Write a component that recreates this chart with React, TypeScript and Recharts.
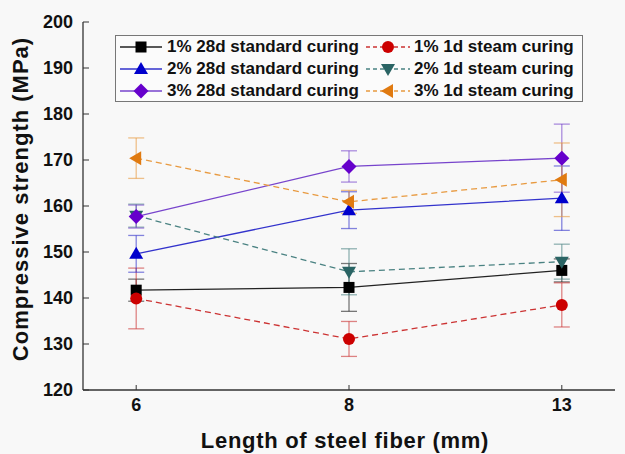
import {
  ErrorBar,
  Line,
  LineChart,
  XAxis,
  YAxis,
} from 'recharts'

const fiberLengths = ['6', '8', '13']
const xPositions = [0, 1, 2]

const std1 = [141.7, 142.3, 146.0]
const std1Err = [2.4, 5.2, 2.5]
const steam1 = [139.9, 131.1, 138.5]
const steam1Err = [6.6, 3.8, 4.8]
const std2 = [149.6, 159.1, 161.7]
const std2Err = [4.0, 4.0, 7.0]
const steam2 = [157.9, 145.7, 147.9]
const steam2Err = [2.5, 5.0, 3.8]
const std3 = [157.7, 168.6, 170.4]
const std3Err = [2.5, 3.4, 7.4]
const steam3 = [170.4, 160.9, 165.7]
const steam3Err = [4.4, 2.5, 8.0]

const yTicks = [120, 130, 140, 150, 160, 170, 180, 190, 200]
const yMinorTicks = [125, 135, 145, 155, 165, 175, 185, 195]

type Shape = 'square' | 'circle' | 'up' | 'down' | 'diamond' | 'left'

interface SeriesDef {
  key: string
  name: string
  color: string
  lineColor: string
  shape: Shape
  dashed: boolean
}

const seriesDefs: SeriesDef[] = [
  { key: 'std1', name: '1% 28d standard curing', color: '#000000', lineColor: '#222222', shape: 'square', dashed: false },
  { key: 'steam1', name: '1% 1d steam curing', color: '#cc0000', lineColor: '#cc3333', shape: 'circle', dashed: true },
  { key: 'std2', name: '2% 28d standard curing', color: '#0000cc', lineColor: '#3333cc', shape: 'up', dashed: false },
  { key: 'steam2', name: '2% 1d steam curing', color: '#2a6464', lineColor: '#4a8282', shape: 'down', dashed: true },
  { key: 'std3', name: '3% 28d standard curing', color: '#6600cc', lineColor: '#7744cc', shape: 'diamond', dashed: false },
  { key: 'steam3', name: '3% 1d steam curing', color: '#e07a10', lineColor: '#e89a40', shape: 'left', dashed: true },
]

const data = xPositions.map((x, i) => ({
  x,
  std1: std1[i],
  std1Err: std1Err[i],
  steam1: steam1[i],
  steam1Err: steam1Err[i],
  std2: std2[i],
  std2Err: std2Err[i],
  steam2: steam2[i],
  steam2Err: steam2Err[i],
  std3: std3[i],
  std3Err: std3Err[i],
  steam3: steam3[i],
  steam3Err: steam3Err[i],
}))

function Marker({ cx, cy, shape, color }: { cx: number; cy: number; shape: Shape; color: string }) {
  switch (shape) {
    case 'square':
      return <rect x={cx - 5.5} y={cy - 5.5} width={11} height={11} fill={color} />
    case 'circle':
      return <circle cx={cx} cy={cy} r={6} fill={color} />
    case 'up':
      return <polygon points={`${cx},${cy - 7} ${cx - 7},${cy + 5} ${cx + 7},${cy + 5}`} fill={color} />
    case 'down':
      return <polygon points={`${cx},${cy + 7} ${cx - 7},${cy - 5} ${cx + 7},${cy - 5}`} fill={color} />
    case 'diamond':
      return <polygon points={`${cx},${cy - 7.5} ${cx + 7.5},${cy} ${cx},${cy + 7.5} ${cx - 7.5},${cy}`} fill={color} />
    case 'left':
      return <polygon points={`${cx - 7},${cy} ${cx + 5},${cy - 7} ${cx + 5},${cy + 7}`} fill={color} />
  }
}

function LegendBox() {
  return (
    <div
      style={{
        position: 'absolute',
        left: 115,
        top: 35,
        border: '1px solid #777',
        width: 468,
        height: 67,
        boxSizing: 'border-box',
        display: 'grid',
        gridTemplateColumns: '246px 220px',
        gridAutoRows: '22px',
        alignContent: 'center',
        fontFamily: 'Arial, "Liberation Sans", sans-serif',
        fontWeight: 'bold',
        fontSize: 17,
        color: '#111',
        background: '#fbfbfb',
      }}
    >
      {[0, 2, 4].flatMap((row) =>
        [row, row + 1].map((i) => {
          const s = seriesDefs[i]
          const col2 = i % 2 === 1
          return (
            <div key={s.key} style={{ display: 'flex', alignItems: 'center', whiteSpace: 'nowrap' }}>
              <svg width={col2 ? 52 : 51} height={22} style={{ flexShrink: 0 }}>
                <line
                  x1={4}
                  x2={col2 ? 48 : 46}
                  y1={11}
                  y2={11}
                  stroke={s.lineColor}
                  strokeWidth={1.3}
                  strokeDasharray={s.dashed ? '4 3' : undefined}
                />
                <Marker cx={col2 ? 26 : 25} cy={11} shape={s.shape} color={s.color} />
              </svg>
              <span>{s.name}</span>
            </div>
          )
        }),
      )}
    </div>
  )
}

const tickStyle = {
  fontFamily: 'Arial, "Liberation Sans", sans-serif',
  fontWeight: 'bold' as const,
  fontSize: 18,
  fill: '#111',
}

const titleStyle = {
  ...tickStyle,
  fontSize: 22,
  letterSpacing: 0.7,
}

export default function App() {
  return (
    <div style={{ position: 'absolute', top: 0, left: 0, width: 625, height: 454, background: '#f8f8f8' }}>
      <LineChart
        width={625}
        height={454}
        data={data}
        margin={{ top: 22, right: 10, bottom: 0, left: 0 }}
      >
        <XAxis
          xAxisId="bottom"
          dataKey="x"
          type="number"
          domain={[-0.25, 2.25]}
          ticks={xPositions}
          tickFormatter={(v: number) => fiberLengths[v] ?? ''}
          height={64}
          tickSize={-5}
          tickMargin={13}
          axisLine={{ stroke: '#333', strokeWidth: 1.3 }}
          tickLine={{ stroke: '#333' }}
          tick={tickStyle}
          label={{
            value: 'Length of steel fiber (mm)',
            position: 'insideBottom',
            offset: 6,
            dx: -4,
            style: titleStyle,
          }}
        />
        <XAxis
          xAxisId="top"
          orientation="top"
          type="number"
          domain={[-0.25, 2.25]}
          height={0}
          tick={false}
          tickLine={false}
          axisLine={{ stroke: '#333', strokeWidth: 1.3 }}
        />
        <YAxis
          yAxisId="left"
          type="number"
          domain={[120, 200]}
          ticks={yTicks}
          width={83}
          tickSize={-6}
          tickMargin={16}
          axisLine={{ stroke: '#333', strokeWidth: 1.3 }}
          tickLine={{ stroke: '#333' }}
          tick={tickStyle}
          label={{
            value: 'Compressive strength (MPa)',
            angle: -90,
            position: 'insideLeft',
            offset: 20,
            dy: -7,
            style: { ...titleStyle, letterSpacing: 1, textAnchor: 'middle' },
          }}
        />
        <YAxis
          yAxisId="minor"
          type="number"
          domain={[120, 200]}
          ticks={yMinorTicks}
          width={0}
          tickSize={-3}
          tickMargin={0}
          axisLine={false}
          tickLine={{ stroke: '#333' }}
          tickFormatter={() => ''}
          orientation="left"
        />
        <YAxis
          yAxisId="right"
          orientation="right"
          type="number"
          domain={[120, 200]}
          width={0}
          tick={false}
          tickLine={false}
          axisLine={{ stroke: '#333', strokeWidth: 1.3 }}
        />
        {seriesDefs.map((s) => (
          <Line
            key={s.key}
            xAxisId="bottom"
            yAxisId="left"
            dataKey={s.key}
            name={s.name}
            stroke={s.lineColor}
            strokeWidth={1.3}
            strokeDasharray={s.dashed ? '6 4' : undefined}
            isAnimationActive={false}
            activeDot={false}
            dot={(props: { cx?: number; cy?: number; index?: number }) => (
              <Marker
                key={`${s.key}-${props.index}`}
                cx={props.cx ?? 0}
                cy={props.cy ?? 0}
                shape={s.shape}
                color={s.color}
              />
            )}
          >
            <ErrorBar
              dataKey={`${s.key}Err`}
              direction="y"
              width={8}
              stroke={s.lineColor}
              strokeOpacity={0.6}
              strokeWidth={1.3}
            />
          </Line>
        ))}
      </LineChart>
      <LegendBox />
    </div>
  )
}
